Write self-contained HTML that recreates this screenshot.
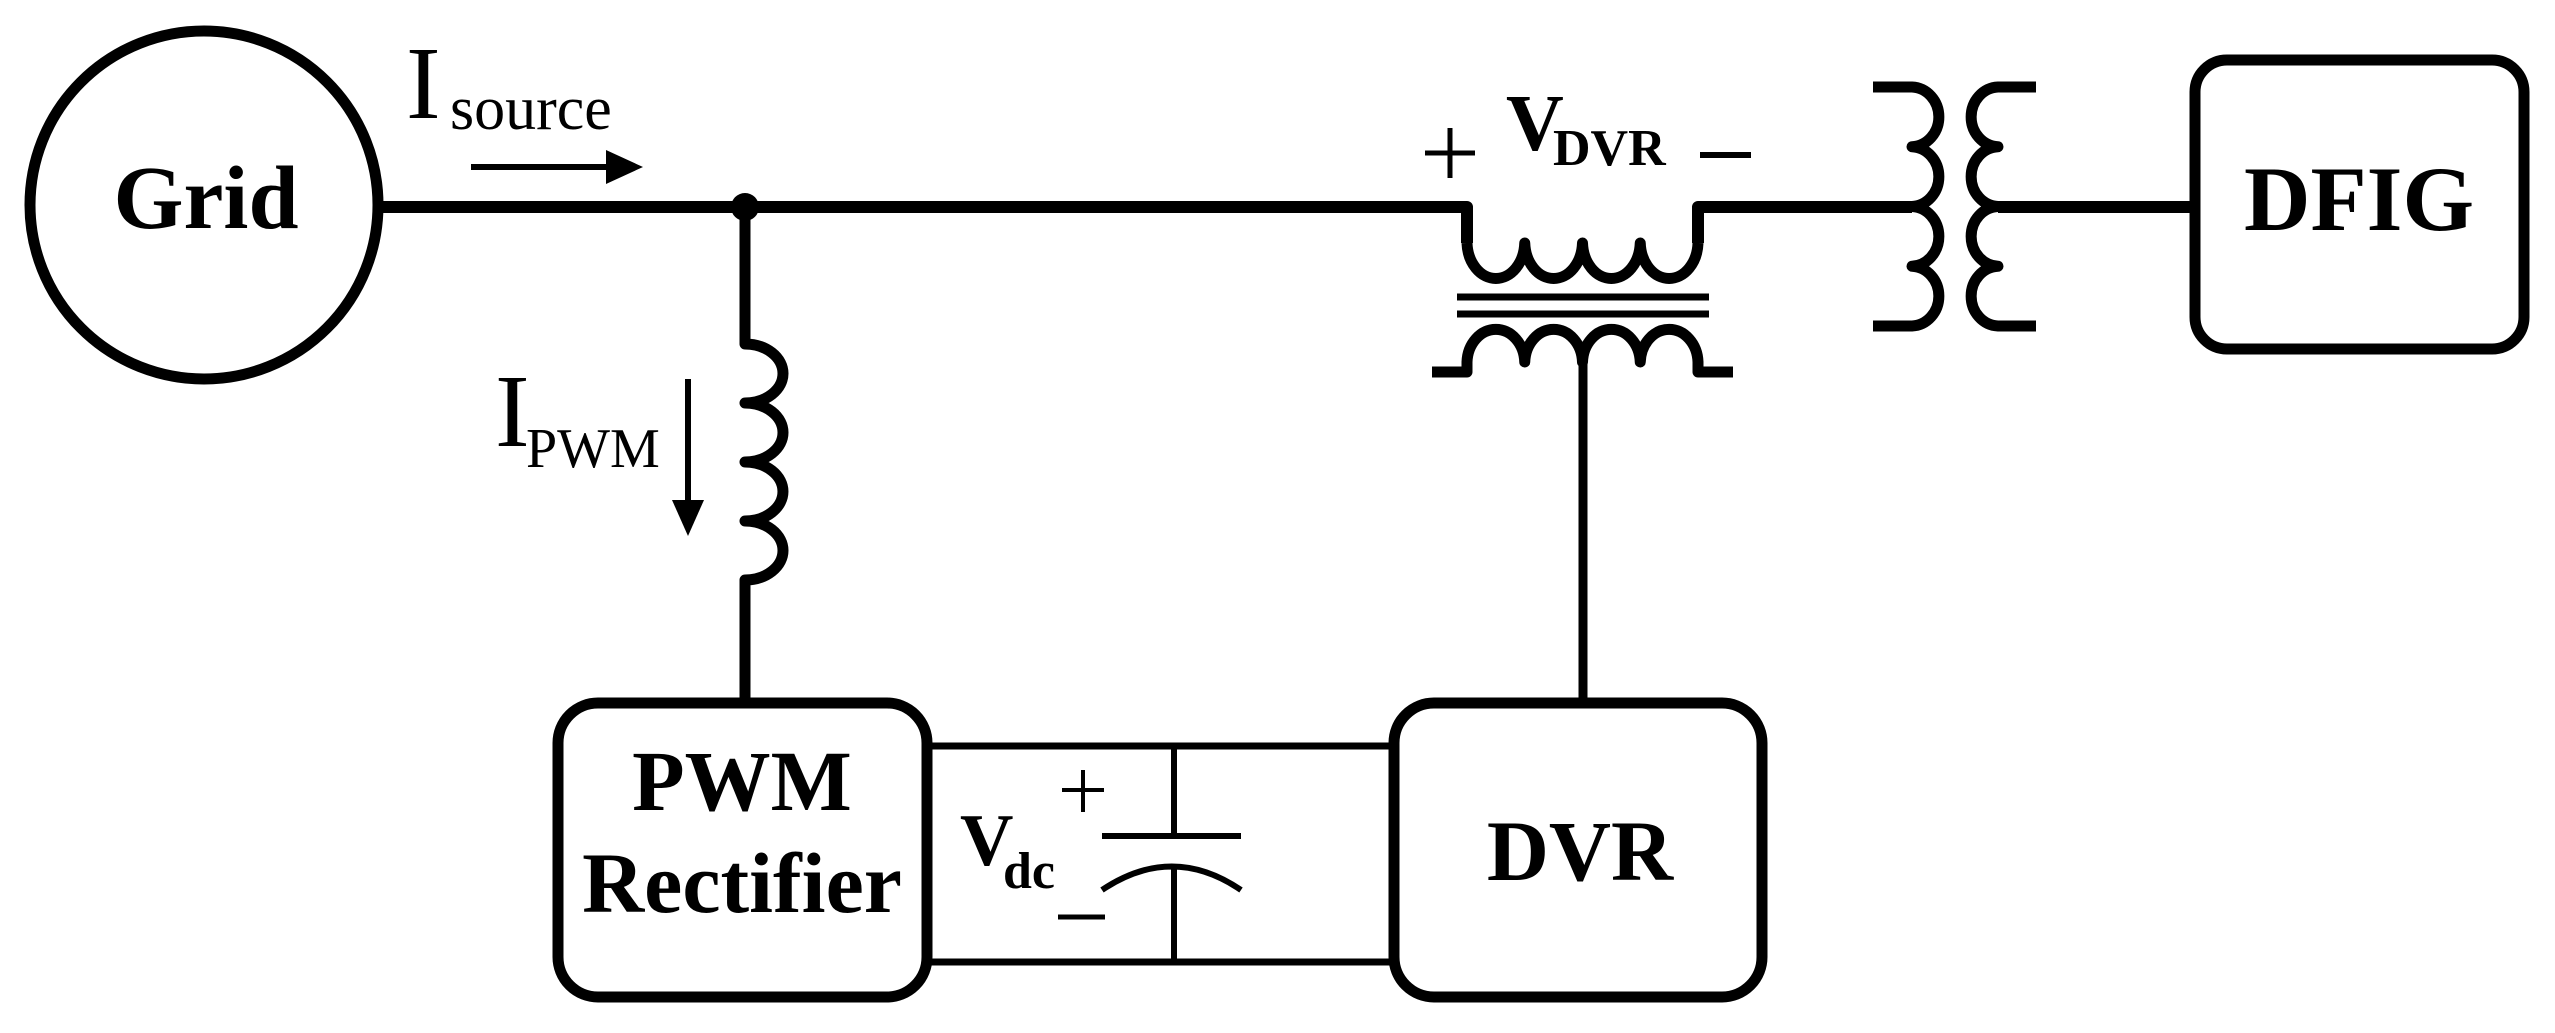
<!DOCTYPE html>
<html><head><meta charset="utf-8"><style>
html,body{margin:0;padding:0;background:#fff;}
svg{display:block;}
text{font-family:"Liberation Serif",serif;fill:#000;}
</style></head><body>
<svg width="2555" height="1033" viewBox="0 0 2555 1033" xmlns="http://www.w3.org/2000/svg">
<g fill="none" stroke="#000" stroke-linecap="butt" stroke-linejoin="round">
  <!-- Grid circle -->
  <circle cx="204" cy="205" r="174" stroke-width="11"/>
  <!-- main wires -->
  <path d="M379 207 H1467 V243" stroke-width="12"/>
  <path d="M1698 243 V207 H1912" stroke-width="12"/>
  <path d="M1998 207 H2195" stroke-width="12"/>
  <!-- junction dot -->
  <circle cx="745" cy="207" r="14" fill="#000" stroke="none"/>
  <!-- left inductor -->
  <path d="M745 207 V344 a38 29.5 0 0 1 0 59 a38 29.5 0 0 1 0 59 a38 29.5 0 0 1 0 59 a38 29.5 0 0 1 0 59 V703" stroke-width="11"/>
  <!-- DVR transformer primary -->
  <path d="M1467 243 a28.9 37 0 0 0 57.75 0 a28.9 37 0 0 0 57.75 0 a28.9 37 0 0 0 57.75 0 a28.9 37 0 0 0 57.75 0" stroke-width="11"/>
  <!-- core -->
  <path d="M1457 297 H1709 M1457 314 H1709" stroke-width="7"/>
  <!-- secondary -->
  <path d="M1432 372 H1467 V362 a28.9 34 0 0 1 57.75 0 a28.9 34 0 0 1 57.75 0 a28.9 34 0 0 1 57.75 0 a28.9 34 0 0 1 57.75 0 V372 H1733" stroke-width="11"/>
  <path d="M1583 362 V703" stroke-width="9"/>
  <!-- right transformer -->
  <path d="M1873 87 H1912 a28 29.9 0 0 1 0 59.75 a28 29.9 0 0 1 0 59.75 a28 29.9 0 0 1 0 59.75 a28 29.9 0 0 1 0 59.75 H1873" stroke-width="11"/>
  <path d="M2036 87 H1998 a28 29.9 0 0 0 0 59.75 a28 29.9 0 0 0 0 59.75 a28 29.9 0 0 0 0 59.75 a28 29.9 0 0 0 0 59.75 H2036" stroke-width="11"/>
  <!-- DFIG box -->
  <rect x="2195" y="60" width="329" height="289" rx="32" stroke-width="11"/>
  <!-- PWM and DVR boxes -->
  <rect x="558" y="703" width="369" height="294" rx="40" stroke-width="11"/>
  <rect x="1394" y="703" width="368" height="294" rx="40" stroke-width="11"/>
  <!-- DC bus -->
  <path d="M927 746 H1394 M927 962 H1394" stroke-width="7"/>
  <!-- capacitor -->
  <path d="M1174 746 V836 M1102 836 H1241" stroke-width="6"/>
  <path d="M1102 890 Q1172 843 1241 890 M1174 866 V962" stroke-width="6"/>
  <!-- arrows -->
  <path d="M471 167 H615" stroke-width="6"/>
  <path d="M688 379 V505" stroke-width="6"/>
  <!-- signs -->
  <path d="M1083 770 V812 M1062 790 H1104" stroke-width="4"/>
  <path d="M1058 917 H1105" stroke-width="5"/>
  <path d="M1450 128 V178 M1425 153 H1475" stroke-width="5"/>
  <path d="M1700 155 H1751" stroke-width="6"/>
</g>
<polygon points="606,150 643,167 606,184" fill="#000"/>
<polygon points="672,500 704,500 688,536" fill="#000"/>
<!-- labels -->
<text x="206" y="228" font-size="90" font-weight="bold" text-anchor="middle">Grid</text>
<text x="406" y="118" font-size="104">I</text>
<text x="450" y="129" font-size="62">source</text>
<text x="495" y="446" font-size="104">I</text>
<text x="526" y="467" font-size="56">PWM</text>
<text x="1506" y="150" font-size="80" font-weight="bold">V</text>
<text x="1553" y="165" font-size="52" font-weight="bold">DVR</text>
<text x="960" y="865" font-size="74" font-weight="bold">V</text>
<text x="1003" y="888" font-size="52" font-weight="bold">dc</text>
<text x="2359" y="230" font-size="92" font-weight="bold" text-anchor="middle">DFIG</text>
<text x="742" y="810" font-size="86" font-weight="bold" text-anchor="middle">PWM</text>
<text x="742" y="912" font-size="86" font-weight="bold" text-anchor="middle">Rectifier</text>
<text x="1580" y="880" font-size="86" font-weight="bold" text-anchor="middle">DVR</text>
</svg>
</body></html>
